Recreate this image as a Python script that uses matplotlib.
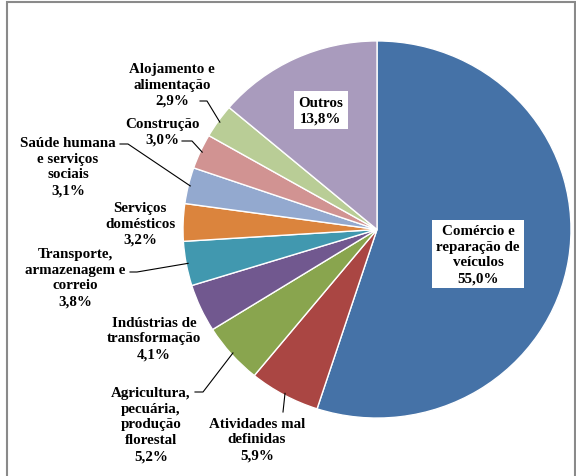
import numpy as np
import matplotlib
matplotlib.use('Agg')
import matplotlib.pyplot as plt
from matplotlib.patches import Rectangle

# dados: distribuicao por setor (%)
setores = ["Comércio e\nreparação de\nveículos",
           "Atividades mal\ndefinidas",
           "Agricultura,\npecuária,\nprodução\nflorestal",
           "Indústrias de\ntransformação",
           "Transporte,\narmazenagem e\ncorreio",
           "Serviços\ndomésticos",
           "Saúde humana\ne serviços\nsociais",
           "Construção",
           "Alojamento e\nalimentação",
           "Outros"]
valores = [55.0, 5.9, 5.2, 4.1, 3.8, 3.2, 3.1, 3.0, 2.9, 13.8]
cores = ["#4572A7", "#AA4643", "#89A54E", "#71588F", "#4198AF",
         "#DB843D", "#93A9CF", "#D19392", "#B9CD96", "#A99BBD"]

W, H = 576, 477
k = 0.972  # pizza levemente achatada como no original
fig = plt.figure(figsize=(W/100, H/100), dpi=100)
ax = fig.add_axes([0, 0, 1, 1])

def py(y):
    # pixel (de cima) -> coordenada y
    return (H - y) / k

# moldura cinza
fig.patches.append(Rectangle((7/W, -0.1), (575-7)/W, 1.1 - 3/H, transform=fig.transFigure,
                             fill=False, edgecolor="#8a8a8a", linewidth=1.5))

cx, cy, r = 377, py(230.5), 194
fatias, _ = ax.pie(valores, colors=cores, startangle=90, counterclock=False,
                   center=(cx, cy), radius=r,
                   wedgeprops=dict(edgecolor='white', linewidth=1))
ax.set_aspect('auto')
ax.set_xlim(0, W)
ax.set_ylim(0, H / k)
ax.axis('off')

# posicao do texto (pixel) e inicio do traco
pos = [(478, 255), (257, 440), (151, 425), (154, 339), (75, 278),
       (140, 224), (68, 167), (162, 132), (172, 85), (321, 111)]
tracos = {1: [(283, 413), (283, 413)],
          2: [(195, 393), (203, 393)],
          4: [(130, 273), (137, 273)],
          6: [(120, 145), (128, 145)],
          7: [(182, 142), (192, 142)],
          8: [(200, 102), (207, 102)]}

for i, (nome, v) in enumerate(zip(setores, valores)):
    txt = nome + "\n" + ("%.1f%%" % v).replace(".", ",")
    x, y = pos[i]
    box = None
    if i in (0, 9):
        box = dict(facecolor='white', edgecolor='none', pad=3)
    ax.text(x, py(y), txt, ha='center', va='center', multialignment='center',
            fontsize=10.8, fontweight='bold', family='Liberation Serif',
            color='black', bbox=box, linespacing=1.28)
    if i in tracos:
        w = fatias[i]
        ang = np.deg2rad((w.theta1 + w.theta2) / 2)
        ex = cx + 0.99*r*np.cos(ang)
        ey = cy + 0.99*r*np.sin(ang)
        (x0, y0), (x1, y1) = tracos[i]
        ax.plot([x0, x1, ex], [py(y0), py(y1), ey], color='black', lw=0.8)

plt.savefig("out.png", dpi=100)
